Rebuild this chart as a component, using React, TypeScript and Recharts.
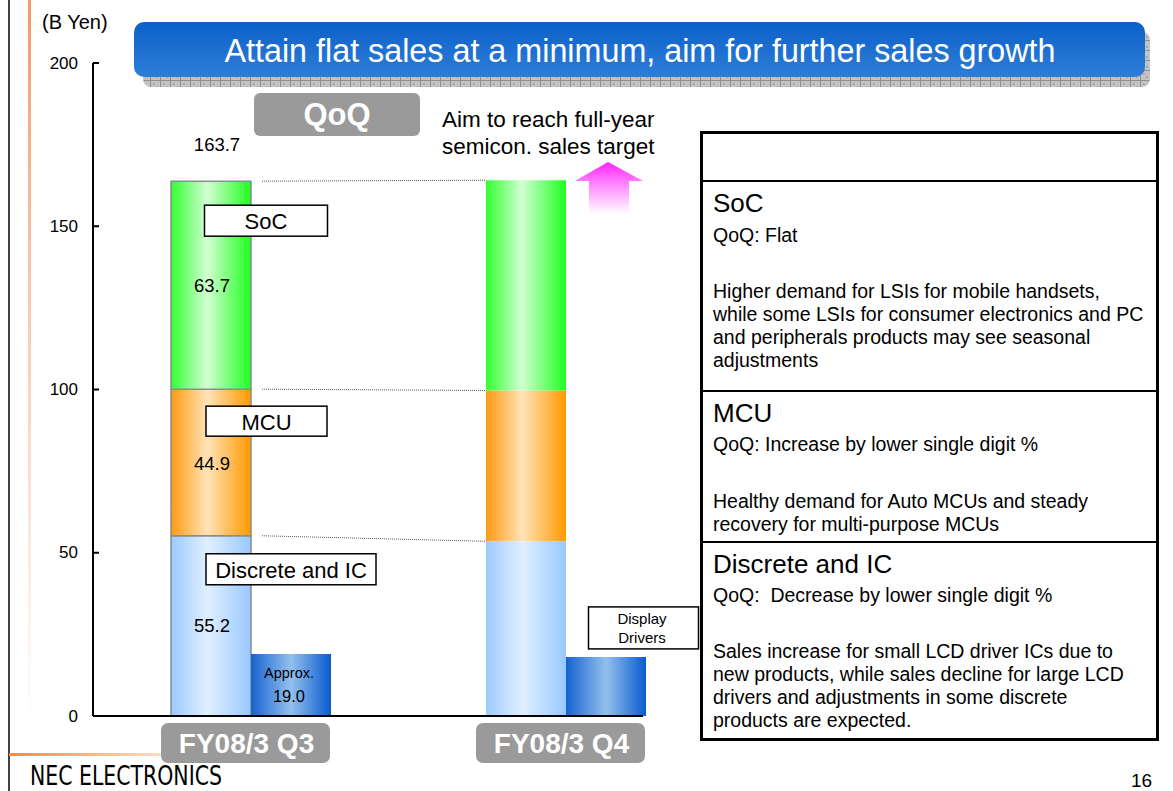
import React from 'react';
import { BarChart, Bar, XAxis, YAxis, Cell, LabelList } from 'recharts';

// values in B Yen
const categories = ['FY08/3 Q3', 'FY08/3 Q4'];
const discreteIC = [55.2, 53.5];
const mcu = [44.9, 46.2];
const soc = [63.7, 64.4];
const displayDrivers = [19.0, 18.1];
const totalLabels = ['163.7', ''];
const yTicks = [0, 50, 100, 150, 200];

const socNotes = [
  'Higher demand for LSIs for mobile handsets,',
  'while some LSIs for consumer electronics and PC',
  'and peripherals products may see seasonal',
  'adjustments',
];
const mcuNotes = [
  'Healthy demand for Auto MCUs and steady',
  'recovery for multi-purpose MCUs',
];
const discreteNotes = [
  'Sales increase for small LCD driver ICs due to',
  'new products, while sales decline for large LCD',
  'drivers and adjustments in some discrete',
  'products are expected.',
];

const data = categories.map((name, i) => ({
  name,
  discrete: discreteIC[i],
  mcu: mcu[i],
  soc: soc[i],
  display: displayDrivers[i],
}));
const stack = [discreteIC, mcu, soc];
const cum = (level: number, i: number) => stack.slice(0, level + 1).reduce((s, a) => s + a[i], 0);

const W = 1173;
const H = 791;
const PLOT_LEFT = 93;
const PLOT_RIGHT = 643;
const PLOT_TOP = 63;
const PLOT_BOTTOM = 716;
const Y_AXIS_W = 60;
const X_AXIS_H = 60;
const X_OVERHANG = 80; // bands run past the drawn axis line on the right
const BAND = (PLOT_RIGHT + X_OVERHANG - PLOT_LEFT) / categories.length;

const FONT = '"Liberation Sans", Arial, sans-serif';

const vbOf = (p: any) => {
  const vb = p.viewBox || p;
  return { x: vb.x ?? p.x, y: vb.y ?? p.y, width: vb.width ?? p.width, height: vb.height ?? p.height };
};

// label box + value + dotted link to the next quarter, drawn for Q3 only
const segmentLabel = (level: number, text: string, dx: number, dy: number, w: number, h: number, vdy = 0) =>
  (p: any) => {
    if (p.index !== 0) return null;
    const { x, y, width, height } = vbOf(p);
    const val = stack[level][0];
    const ratio = height / val;
    const yNext = y - (cum(level, 1) - cum(level, 0)) * ratio;
    return (
      <g fontFamily={FONT}>
        <line x1={x + width + 11} y1={y} x2={x + BAND} y2={yNext} stroke="#555" strokeWidth={1} strokeDasharray="1 1" />
        <rect x={x + dx} y={y + dy} width={w} height={h} fill="#fff" stroke="#000" strokeWidth={1.5} />
        <text x={x + dx + w / 2} y={y + dy + h / 2 + 1} textAnchor="middle" dominantBaseline="central" fontSize={22} fill="#000">
          {text}
        </text>
        <text x={x + width / 2 + 1} y={y + height / 2 + vdy} textAnchor="middle" dominantBaseline="central" fontSize={18.5} fill="#000">
          {val.toFixed(1)}
        </text>
        {level === 2 && (
          <text x={x + width / 2 + 6} y={y - 37} textAnchor="middle" dominantBaseline="central" fontSize={18.5} fill="#000">
            {totalLabels[0]}
          </text>
        )}
      </g>
    );
  };

const displayLabel = (p: any) => {
  const { x, y, width } = vbOf(p);
  if (p.index === 0) {
    return (
      <g fontFamily={FONT} textAnchor="middle" fill="#000">
        <text x={x + width / 2 - 2} y={y + 19} dominantBaseline="central" fontSize={14.5}>Approx.</text>
        <text x={x + width / 2 - 2} y={y + 42} dominantBaseline="central" fontSize={16.5}>
          {displayDrivers[0].toFixed(1)}
        </text>
      </g>
    );
  }
  return (
    <g fontFamily={FONT} textAnchor="middle" fill="#000">
      <rect x={x + 22.5} y={y - 50} width={110} height={42} fill="#fff" stroke="#000" strokeWidth={1.5} />
      <text x={x + 76} y={y - 38} dominantBaseline="central" fontSize={15}>Display</text>
      <text x={x + 76} y={y - 19} dominantBaseline="central" fontSize={15}>Drivers</text>
    </g>
  );
};

const CategoryTick = ({ x, y, payload }: any) => (
  <g>
    <rect x={x - 89.5} y={y + 7} width={169} height={40} rx={7} fill="#9a9a9a" />
    <text x={x - 4} y={y + 37} textAnchor="middle" fontFamily={FONT} fontWeight="bold" fontSize={28} fill="#fff">
      {payload.value}
    </text>
  </g>
);

const ValueTick = ({ y, payload }: any) => (
  <g>
    <line x1={PLOT_LEFT} x2={PLOT_LEFT + 6} y1={y} y2={y} stroke="#000" strokeWidth={2} />
    <text x={PLOT_LEFT - 15} y={y} textAnchor="end" dominantBaseline="central" fontFamily={FONT} fontSize={17} fill="#000">
      {payload.value}
    </text>
  </g>
);

const hGrad = (id: string, edgeL: string, mid: string, edgeR: string, at = 0.45) => (
  <linearGradient id={id} x1="0" y1="0" x2="1" y2="0">
    <stop offset="0" stopColor={edgeL} />
    <stop offset={at} stopColor={mid} />
    <stop offset="1" stopColor={edgeR} />
  </linearGradient>
);

const textLine = (top: number, size: number, lh: number, lines: string[]) => (
  <div
    style={{
      position: 'absolute', left: 713, top, fontSize: size, lineHeight: `${lh}px`,
      whiteSpace: 'pre', fontFamily: FONT, color: '#000',
    }}
  >
    {lines.join('\n')}
  </div>
);

export default function App() {
  const q3Stroke = (i: number) => (i === 0 ? '#8c8c8c' : 'none');
  return (
    <div style={{ position: 'absolute', left: 0, top: 0, width: W, height: H, background: '#fff', overflow: 'hidden' }}>
      {/* slide decorations + gradient defs */}
      <svg width={W} height={H} style={{ position: 'absolute', left: 0, top: 0 }}>
        <defs>
          {hGrad('gSoc', '#33ff33', '#d2ffd2', '#1fff1f')}
          {hGrad('gMcu', '#ff9a12', '#ffe3b8', '#ff9900')}
          {hGrad('gDisc', '#9ccaff', '#e0efff', '#98c8ff')}
          {hGrad('gDisp', '#1762d0', '#93c0ec', '#0a5ad0', 0.5)}
          <linearGradient id="gSideV" x1="0" y1="0" x2="0" y2="1">
            <stop offset="0" stopColor="#f29a6b" />
            <stop offset="0.45" stopColor="#f9cdb5" />
            <stop offset="1" stopColor="#ffffff" />
          </linearGradient>
          <linearGradient id="gSideH" x1="0" y1="0" x2="1" y2="0">
            <stop offset="0" stopColor="#f58a3a" />
            <stop offset="1" stopColor="#fde0cc" />
          </linearGradient>
        </defs>
        <line x1={9} y1={0} x2={9} y2={H} stroke="#000" strokeWidth={1.5} />
        <rect x={28} y={0} width={3} height={725} fill="url(#gSideV)" />
        <rect x={9} y={753} width={160} height={3} fill="url(#gSideH)" />
      </svg>

      <div style={{ position: 'absolute', left: 0, top: 0 }}>
        <BarChart
          width={W}
          height={H}
          data={data}
          margin={{ top: PLOT_TOP, right: W - PLOT_RIGHT, bottom: H - PLOT_BOTTOM - X_AXIS_H, left: PLOT_LEFT - Y_AXIS_W }}
          barGap={0}
          barSize={80}
        >
          <XAxis
            dataKey="name"
            interval={0}
            height={X_AXIS_H}
            padding={{ left: 0, right: -X_OVERHANG }}
            axisLine={{ stroke: '#000', strokeWidth: 2 }}
            tickLine={false}
            tickSize={0}
            tickMargin={0}
            tick={<CategoryTick />}
          />
          <YAxis
            domain={[0, 200]}
            ticks={yTicks}
            width={Y_AXIS_W}
            axisLine={{ stroke: '#000', strokeWidth: 2 }}
            tickLine={false}
            tick={<ValueTick />}
          />
          <Bar dataKey="discrete" stackId="s" fill="url(#gDisc)" isAnimationActive={false}>
            {data.map((_, i) => <Cell key={i} fill="url(#gDisc)" stroke={q3Stroke(i)} strokeWidth={1.5} />)}
            <LabelList dataKey="discrete" content={segmentLabel(0, 'Discrete and IC', 35, 18, 170, 31)} />
          </Bar>
          <Bar dataKey="mcu" stackId="s" fill="url(#gMcu)" isAnimationActive={false}>
            {data.map((_, i) => <Cell key={i} fill="url(#gMcu)" stroke={q3Stroke(i)} strokeWidth={1.5} />)}
            <LabelList dataKey="mcu" content={segmentLabel(1, 'MCU', 35, 17, 121, 30, 1.5)} />
          </Bar>
          <Bar dataKey="soc" stackId="s" fill="url(#gSoc)" isAnimationActive={false}>
            {data.map((_, i) => <Cell key={i} fill="url(#gSoc)" stroke={q3Stroke(i)} strokeWidth={1.5} />)}
            <LabelList dataKey="soc" content={segmentLabel(2, 'SoC', 33.5, 24, 123, 31)} />
          </Bar>
          <Bar dataKey="display" fill="url(#gDisp)" isAnimationActive={false}>
            <LabelList dataKey="display" content={displayLabel} />
          </Bar>
        </BarChart>
      </div>

      {/* title, notes, footer */}
      <svg width={W} height={H} style={{ position: 'absolute', left: 0, top: 0, pointerEvents: 'none' }} fontFamily={FONT}>
        <defs>
          <pattern id="hatch" width="10" height="10" patternUnits="userSpaceOnUse">
            <rect width="10" height="10" fill="#c4c4c4" />
            <path d="M0 0.5H10M0.5 0V10" stroke="#8e8e8e" strokeWidth={1} />
            <rect x="3" y="3" width="2" height="2" fill="#a8a8a8" />
            <rect x="6" y="6" width="2" height="2" fill="#a8a8a8" />
          </pattern>
          <linearGradient id="gBanner" x1="0" y1="0" x2="0" y2="1">
            <stop offset="0" stopColor="#0c60c8" />
            <stop offset="1" stopColor="#2e7ed8" />
          </linearGradient>
          <linearGradient id="gArrow" x1="0" y1="162" x2="0" y2="214" gradientUnits="userSpaceOnUse">
            <stop offset="0" stopColor="#ff22ff" />
            <stop offset="0.4" stopColor="#ff80ff" />
            <stop offset="1" stopColor="#ffffff" />
          </linearGradient>
        </defs>
        <text x={42} y={29} fontSize={20} fill="#000">(B Yen)</text>
        <rect x={143} y={32} width={1007} height={55} rx={8} fill="url(#hatch)" />
        <rect x={134} y={22} width={1011} height={55} rx={10} fill="url(#gBanner)" />
        <text x={640} y={62} textAnchor="middle" fontSize={32.3} fill="#fff">
          Attain flat sales at a minimum, aim for further sales growth
        </text>
        <rect x={254} y={93} width={166} height={43} rx={6} fill="#9a9a9a" />
        <text x={337} y={125} textAnchor="middle" fontSize={31} fontWeight="bold" fill="#fff">QoQ</text>
        <polygon points="575,181 608,162 643,181 629,181 629,214 589,214 589,181" fill="url(#gArrow)" />
        <text
          x={30}
          y={785}
          fontSize={26}
          fontFamily='"Liberation Sans Narrow", "DejaVu Sans Condensed", sans-serif'
          textLength={192}
          lengthAdjust="spacingAndGlyphs"
          fill="#000"
        >
          NEC ELECTRONICS
        </text>
        <text x={1131} y={787} fontSize={19} fill="#000">16</text>
      </svg>

      <div
        style={{
          position: 'absolute', left: 442, top: 106, fontSize: 22.5, lineHeight: '27px',
          whiteSpace: 'pre', fontFamily: FONT, color: '#000',
        }}
      >
        {'Aim to reach full-year\nsemicon. sales target'}
      </div>

      {/* notes table */}
      <div style={{ position: 'absolute', left: 700, top: 131, width: 459, height: 610, border: '3px solid #000', boxSizing: 'border-box', background: '#fff' }} />
      <div style={{ position: 'absolute', left: 700, top: 180, width: 459, height: 2, background: '#000' }} />
      <div style={{ position: 'absolute', left: 700, top: 390, width: 459, height: 2, background: '#000' }} />
      <div style={{ position: 'absolute', left: 700, top: 541, width: 459, height: 2, background: '#000' }} />

      {textLine(188, 26, 30, ['SoC'])}
      {textLine(224, 19.5, 23, ['QoQ: Flat'])}
      {textLine(280, 19.5, 23, socNotes)}

      {textLine(398, 26, 30, ['MCU'])}
      {textLine(433, 19.5, 23, ['QoQ: Increase by lower single digit %'])}
      {textLine(490, 19.5, 23, mcuNotes)}

      {textLine(549, 26, 30, ['Discrete and IC'])}
      {textLine(584, 19.5, 23, ['QoQ:  Decrease by lower single digit %'])}
      {textLine(640, 19.5, 23, discreteNotes)}
    </div>
  );
}
